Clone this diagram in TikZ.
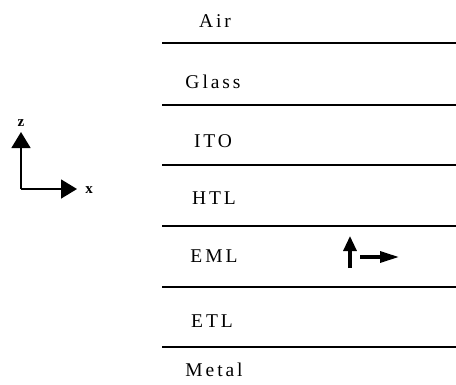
\documentclass[tikz,border=0pt]{standalone}
\usepackage{fontspec}
\setmainfont{Liberation Serif}
\newfontfamily\layerfont[LetterSpace=15]{Liberation Serif}
\usetikzlibrary{arrows.meta}
\begin{document}
\begin{tikzpicture}[x=1pt,y=-1pt,
  layer/.style={font=\layerfont\fontsize{19.5}{22}\selectfont, anchor=base, inner sep=0pt},
  sep/.style={line width=1.4pt},
  axis/.style={line width=1.6pt, -{Triangle[length=16pt,width=19pt]}},
  axlabel/.style={font=\bfseries\fontsize{15}{17}\selectfont, inner sep=0pt},
  dirarrow/.style={line width=3.2pt},
  uphead/.style={-{Triangle[length=15pt,width=13pt]}},
  righthead/.style={-{Triangle[length=19pt,width=11pt]}}]
\useasboundingbox (0,0) rectangle (456,384);
% layer separators
\foreach \y [count=\i] in {43,105,165,226,287,347}{
  \coordinate (l\i) at (162,\y);
  \coordinate (r\i) at (456,\y);
  \draw[sep] (l\i) -- (r\i);
}
% layer names
\node[layer] (air) at (215,27) {A\kern3pt ir};
\node[layer] (glass) at (213,88) {G\kern3pt lass};
\node[layer] (ito) at (213,147) {ITO};
\node[layer] (htl) at (214,204) {HTL};
\node[layer] (eml) at (214,262) {EML};
\node[layer] (etl) at (212,327) {ETL};
\node[layer] (metal) at (214,376) {M\kern3pt etal};
% axes
\coordinate (o) at (21,189);
\coordinate (ztip) at (21,132);
\coordinate (xtip) at (77,189);
\draw[axis] (o) -- (ztip);
\draw[axis] (o) -- (xtip);
\node[axlabel] (zl) at (21,123) {z};
\node[axlabel] (xl) at (89,190) {x};
% dipole arrows in EML
\coordinate (ub) at (350,268);
\coordinate (ut) at (350,236);
\coordinate (rs) at (360,257);
\coordinate (rt) at (399,257);
\draw[dirarrow,uphead] (ub) -- (ut);
\draw[dirarrow,righthead] (rs) -- (rt);
\end{tikzpicture}
\end{document}
